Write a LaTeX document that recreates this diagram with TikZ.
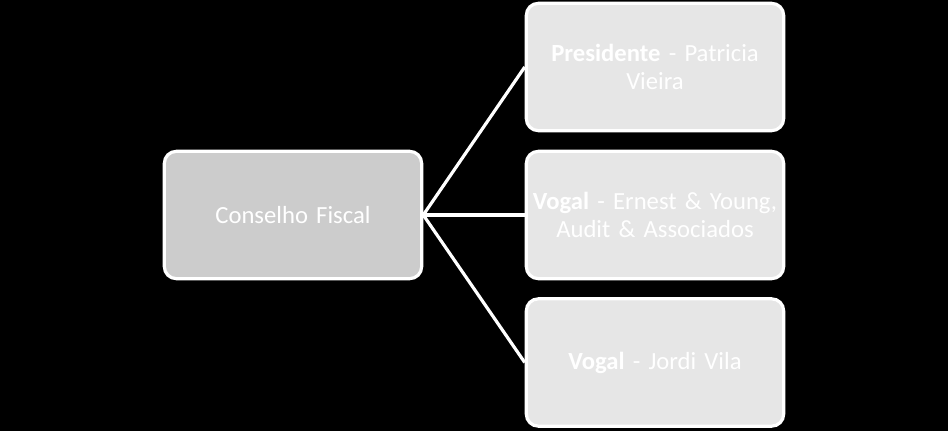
\documentclass[tikz,border=0pt]{standalone}
\usepackage{fontspec}
\setmainfont{Carlito}[WordSpace={0.8,0,0}]
\begin{document}
\begin{tikzpicture}[x=0.75pt,y=0.75pt,
  boxstyle/.style={draw=white,line width=2.4pt,rounded corners=9pt,text=white,font=\fontsize{18.5}{20.5}\selectfont,align=center,inner sep=0pt},
  leftbox/.style={boxstyle,fill=lefgrey,minimum width=193pt,minimum height=95.5pt,text width=190pt},
  rightbox/.style={boxstyle,fill=rigrey,minimum width=193pt,minimum height=95.5pt,text width=190pt},
  conn/.style={draw=white,line width=2.4pt}]
\definecolor{lefgrey}{HTML}{CCCCCC}
\definecolor{rigrey}{HTML}{E6E6E6}
\fill[black] (0,0) rectangle (948,431);
\useasboundingbox (0,0) rectangle (948,431);
\node[leftbox] (cf) at (293,216) {Conselho Fiscal};
\node[rightbox] (p) at (655,364) {\textbf{Presidente} - Patricia\\Vieira};
\node[rightbox] (v1) at (655,216) {\textbf{Vogal} - Ernest \& Young,\\Audit \& Associados};
\node[rightbox] (v2) at (655,68.5) {\textbf{Vogal} - Jordi Vila};
\draw[conn] (cf.east) -- (p.west);
\draw[conn] (cf.east) -- (v1.west);
\draw[conn] (cf.east) -- (v2.west);
\end{tikzpicture}
\end{document}
